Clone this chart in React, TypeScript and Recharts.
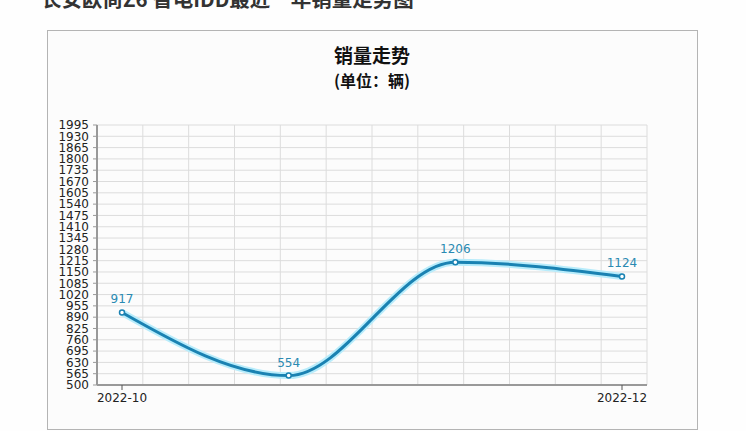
import React from "react";
import { LineChart, Line, XAxis, YAxis, CartesianGrid, LabelList } from "recharts";

const positions = [0, 1, 2, 3];
const sales = [917, 554, 1206, 1124];
const xTickLabels = ["2022-10", "", "", "2022-12"];
const shownXTicks = [0, 3];
const yTicks = [
  500, 565, 630, 695, 760, 825, 890, 955, 1020, 1085, 1150, 1215, 1280, 1345,
  1410, 1475, 1540, 1605, 1670, 1735, 1800, 1865, 1930, 1995,
];
const pageTitle = "长安欧尚Z6 智电IDD最近一年销量走势图";
const chartTitle = "销量走势";
const chartSubtitle = "(单位：辆)";

const data = positions.map((p, i) => ({ pos: p, value: sales[i] }));

const LINE = "#1a82b2";
const FONT = "'DejaVu Sans', Verdana, sans-serif";
const CJK = "'Noto Sans CJK SC', sans-serif";

export default function App() {
  return (
    <div
      style={{
        position: "absolute",
        left: 0,
        top: 0,
        width: 746,
        height: 431,
        background: "#fefefe",
        overflow: "hidden",
      }}
    >
      <div
        style={{
          position: "absolute",
          left: 41,
          top: -12,
          fontFamily: CJK,
          fontWeight: 700,
          fontSize: 20.5,
          lineHeight: "20px",
          color: "#333",
          whiteSpace: "nowrap",
        }}
      >
        {pageTitle}
      </div>
      <div
        style={{
          position: "absolute",
          left: 47,
          top: 30,
          width: 649,
          height: 398,
          border: "1px solid #b4b4b4",
          background: "#fcfcfc",
        }}
      />
      <div
        style={{
          position: "absolute",
          left: 272,
          width: 200,
          top: 42,
          textAlign: "center",
          fontFamily: CJK,
          fontWeight: 700,
          fontSize: 19,
          lineHeight: "26px",
          color: "#111",
        }}
      >
        {chartTitle}
      </div>
      <div
        style={{
          position: "absolute",
          left: 272,
          width: 200,
          top: 70,
          textAlign: "center",
          fontFamily: CJK,
          fontWeight: 700,
          fontSize: 16,
          lineHeight: "20px",
          color: "#111",
        }}
      >
        {chartSubtitle}
      </div>
      <div style={{ position: "absolute", left: 0, top: 0 }}>
        <LineChart
          width={746}
          height={431}
          data={data}
          margin={{ top: 125, right: 99, bottom: 0, left: 0 }}
        >
          <CartesianGrid
            stroke="#dcdcdc"
            strokeWidth={1}
            verticalCoordinatesGenerator={({ offset }: any) =>
              Array.from({ length: 13 }, (_, i) => offset.left + (offset.width * i) / 12)
            }
          />
          <XAxis
            dataKey="pos"
            type="number"
            domain={[-0.15, 3.15]}
            ticks={shownXTicks}
            tickFormatter={(v: number) => xTickLabels[v]}
            height={46}
            axisLine={{ stroke: "#999", strokeWidth: 2 }}
            tickLine={{ stroke: "#555" }}
            tickSize={5}
            tickMargin={3}
            tick={{ fill: "#222", fontSize: 12, fontFamily: FONT }}
            interval={0}
          />
          <YAxis
            type="number"
            domain={[500, 1995]}
            ticks={yTicks}
            width={97}
            interval={0}
            axisLine={{ stroke: "#999", strokeWidth: 2 }}
            tickLine={{ stroke: "#999" }}
            tickSize={4}
            tickMargin={4}
            tick={{ fill: "#222", fontSize: 12, fontFamily: FONT }}
          />
          <Line
            dataKey="value"
            type="monotone"
            stroke="#b8ecfb"
            strokeWidth={7}
            dot={false}
            activeDot={false}
            isAnimationActive={false}
          />
          <Line
            dataKey="value"
            type="monotone"
            stroke={LINE}
            strokeWidth={3}
            dot={{ r: 2.5, fill: "#fff", stroke: LINE, strokeWidth: 1.5 }}
            activeDot={false}
            isAnimationActive={false}
          >
            <LabelList
              dataKey="value"
              position="top"
              offset={9}
              fill="#2a8ab2"
              fontSize={12}
              fontFamily={FONT}
            />
          </Line>
        </LineChart>
      </div>
    </div>
  );
}
